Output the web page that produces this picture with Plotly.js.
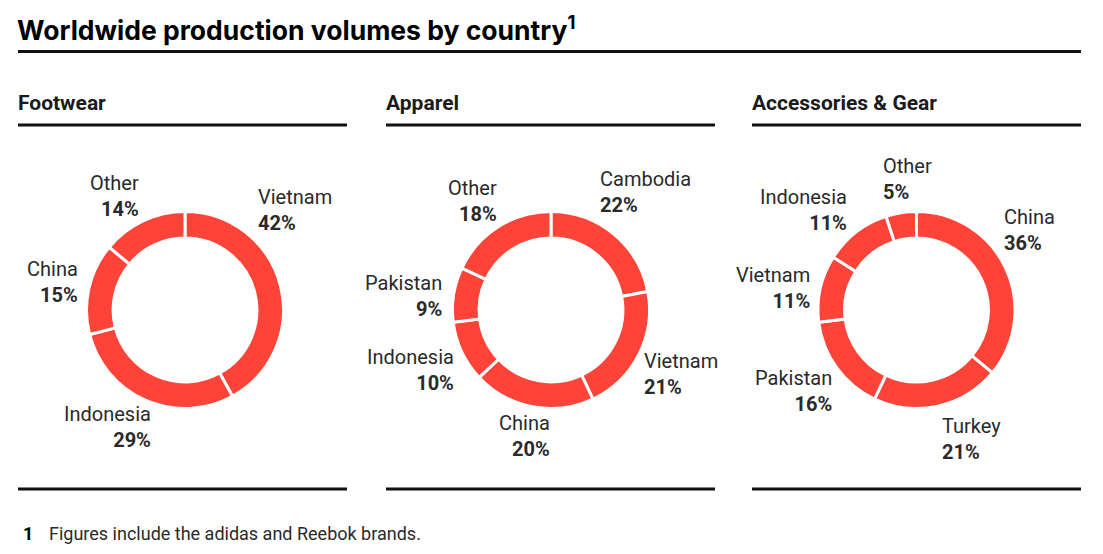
<!DOCTYPE html>
<html><head><meta charset="utf-8">
<script src="https://cdn.plot.ly/plotly-3.0.1.min.js"></script>
<style>html,body{margin:0;padding:0;background:#fff}#chart{width:1103px;height:554px}</style>
</head><body><div id="chart"></div>
<script>
// ---- data ----
const footwearLabels = ["Vietnam", "Indonesia", "China", "Other"];
const footwearValues = [42, 29, 15, 14];
const apparelLabels = ["Cambodia", "Vietnam", "China", "Indonesia", "Pakistan", "Other"];
const apparelValues = [22, 21, 20, 10, 9, 18];
const accessoriesLabels = ["China", "Turkey", "Pakistan", "Vietnam", "Indonesia", "Other"];
const accessoriesValues = [36, 21, 16, 11, 11, 5];
const panelTitles = ["Footwear", "Apparel", "Accessories & Gear"];
const chartTitle = "Worldwide production volumes by country";
const footnote = "Figures include the adidas and Reebok brands.";

// ---- layout helpers (pixels) ----
const W = 1103, H = 554;
const px = x => x / W, py = y => 1 - y / H;
const RED = "#fe4338", TXT = "#2a2a2a";
const R = 98.5, CY = 310;
const centers = [185, 551, 916.5];
const LBL_DY = 1.5;

// label placement per panel (x, y in px, anchor side)
const labelPos = [
  [[256, 208, "left"], [153, 425, "right"], [80, 280, "right"], [141, 195, "right"]],
  [[598, 190, "left"], [642, 372, "left"], [552, 434, "right"], [456, 368, "right"], [444, 294, "right"], [499, 199, "right"]],
  [[1002, 229, "left"], [940, 437, "left"], [834, 389, "right"], [812, 286, "right"], [849, 208, "right"], [881, 178, "left"]]
];

const panels = [
  [footwearLabels, footwearValues],
  [apparelLabels, apparelValues],
  [accessoriesLabels, accessoriesValues]
];

const data = panels.map((p, i) => ({
  type: "pie",
  labels: p[0],
  values: p[1],
  hole: 0.73,
  sort: false,
  direction: "clockwise",
  rotation: 0,
  textinfo: "none",
  hoverinfo: "label+percent",
  marker: {colors: p[0].map(() => RED), line: {color: "#fff", width: 3}},
  domain: {x: [px(centers[i] - R), px(centers[i] + R)], y: [py(CY + R), py(CY - R)]},
  showlegend: false
}));

const annotations = [];
panels.forEach((p, i) => {
  p[0].forEach((lab, j) => {
    const [x, y, side] = labelPos[i][j];
    annotations.push({
      xref: "paper", yref: "paper", x: px(x), y: py(y + LBL_DY),
      xanchor: side, yanchor: "middle", align: side, showarrow: false,
      text: lab + "<br><b>" + p[1][j] + "%</b>",
      font: {family: "Roboto, 'DejaVu Sans', sans-serif", size: 20, color: TXT}
    });
  });
});
// panel titles
const panelX = [16, 384, 750];
panelTitles.forEach((t, i) => annotations.push({
  xref: "paper", yref: "paper", x: px(panelX[i]), y: py(103), xanchor: "left", yanchor: "middle",
  showarrow: false, text: "<b>" + t + "</b>",
  font: {family: "Roboto, sans-serif", size: 21, color: "#1a1a1a"}
}));
// main title
annotations.push({
  xref: "paper", yref: "paper", x: px(15), y: py(29), xanchor: "left", yanchor: "middle",
  showarrow: false, text: "<b>" + chartTitle + "<sup>1</sup></b>",
  font: {family: "Inter, sans-serif", size: 26.5, color: "#000"}
});
// footnote
annotations.push({
  xref: "paper", yref: "paper", x: px(21), y: py(533), xanchor: "left", yanchor: "middle",
  showarrow: false, text: "<b>1</b>",
  font: {family: "Roboto, sans-serif", size: 18, color: "#000"}
});
annotations.push({
  xref: "paper", yref: "paper", x: px(47), y: py(533), xanchor: "left", yanchor: "middle",
  showarrow: false, text: footnote,
  font: {family: "Roboto, sans-serif", size: 18, color: TXT}
});

const shapes = [];
const hline = (x0, x1, y, w) => shapes.push({type: "line", xref: "paper", yref: "paper",
  x0: px(x0), x1: px(x1), y0: py(y), y1: py(y), line: {color: "#111", width: w}});
hline(18, 1081, 51.5, 3);
[[18, 347], [386, 715], [752, 1081]].forEach(([a, b]) => { hline(a, b, 125, 3); hline(a, b, 489, 3); });

Plotly.newPlot("chart", data, {
  width: W, height: H, margin: {l: 0, r: 0, t: 0, b: 0},
  paper_bgcolor: "#fff", plot_bgcolor: "#fff",
  annotations, shapes
}, {displayModeBar: false, staticPlot: true});
</script></body></html>
